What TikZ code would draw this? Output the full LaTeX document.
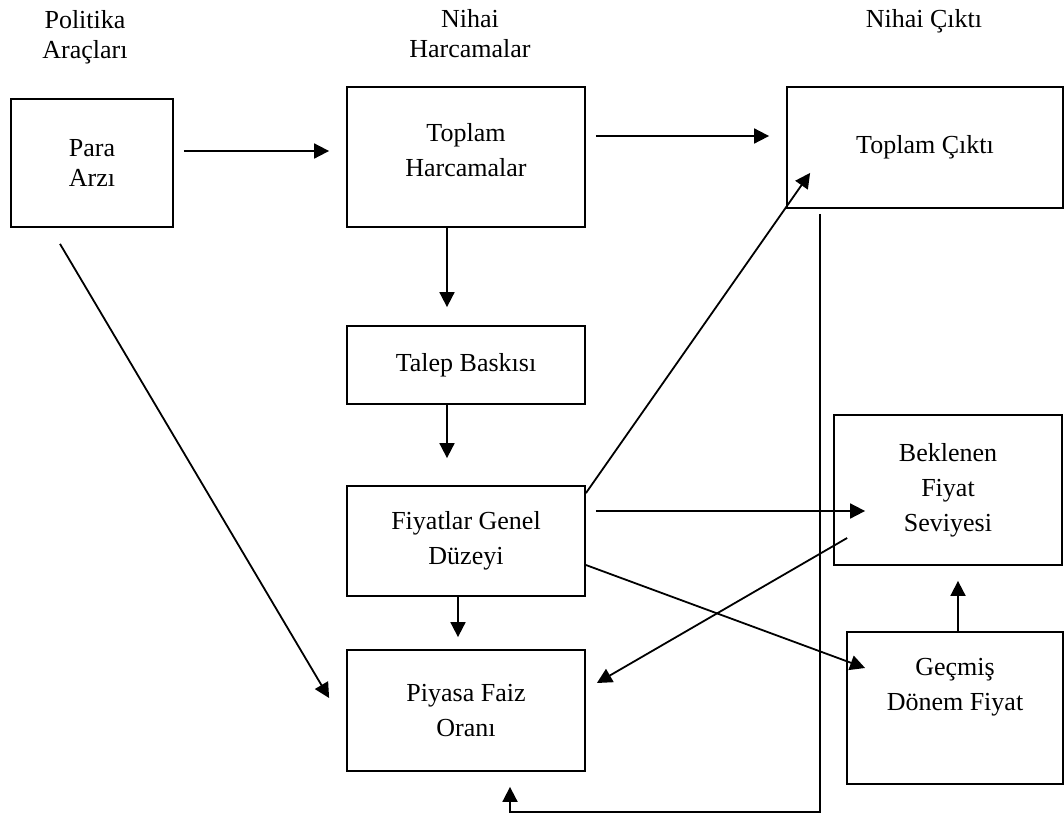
\documentclass[tikz,border=0pt]{standalone}
\usepackage{fontspec}
\setmainfont{Liberation Serif}
\usetikzlibrary{arrows.meta}

\begin{document}
\begin{tikzpicture}[x=1pt,y=-1pt,
	kutu/.style={draw,line width=1.8pt,align=center,inner sep=0pt,font=\fontsize{26}{35}\selectfont},
	baslik/.style={align=center,font=\fontsize{26}{30}\selectfont},
	ok/.style={-{Triangle[length=15pt,width=15pt]},line width=1.8pt}]
	\useasboundingbox (0,0) rectangle (1064,816);

	\node[baslik](politika) at (85,37) {Politika\\Araçları};
	\node[baslik](nihaiharc) at (470,34) {Nihai\\Harcamalar};
	\node[baslik,anchor=base](nihaicikti) at (924,28) {Nihai Çıktı};

	\node[kutu,minimum width=162pt,minimum height=128pt,font=\fontsize{26}{30}\selectfont](para) at (92,163) {Para\\Arzı};
	\node[kutu,minimum width=238pt,minimum height=140pt](th) at (466,157) {Toplam\\Harcamalar\\[-20pt]\mbox{}};
	\node[kutu,minimum width=276pt,minimum height=121pt](tc) at (925,147.5) {Toplam Çıktı};
	\node[kutu,minimum width=238pt,minimum height=78pt](talep) at (466,365) {Talep Baskısı};
	\node[kutu,minimum width=238pt,minimum height=110pt](fiyat) at (466,541) {Fiyatlar Genel\\Düzeyi};
	\node[kutu,minimum width=238pt,minimum height=121pt](piyasa) at (466,710.5) {Piyasa Faiz\\Oranı};
	\node[kutu,minimum width=228pt,minimum height=150pt](beklenen) at (948,490) {Beklenen\\Fiyat\\Seviyesi};
	\node[kutu,minimum width=216pt,minimum height=152pt](gecmis) at (955,708) {Geçmiş\\Dönem Fiyat\\[13pt]\mbox{}};

	\coordinate (donus) at (820,812);

	\draw[ok,shorten <=10pt,shorten >=17pt] ([yshift=12pt]para.east) -- ([yshift=6pt]th.west);
	\draw[ok,shorten <=10pt,shorten >=17pt] ([yshift=21pt]th.east) -- ([yshift=11.5pt]tc.west);
	\draw[ok,shorten >=18pt] ([xshift=-19pt]th.south) -- ([xshift=-19pt]talep.north);
	\draw[ok,shorten >=27pt] ([xshift=-19pt]talep.south) -- ([xshift=-19pt]fiyat.north);
	\draw[ok,shorten >=12pt] ([xshift=-8pt]fiyat.south) -- ([xshift=-8pt]piyasa.north);
	\draw[ok] ([xshift=-32pt,yshift=-16pt]para.south) -- ([xshift=-17pt,yshift=12.5pt]piyasa.west);
	\draw[ok] ([yshift=-8pt]fiyat.north east) -- ([xshift=24pt,yshift=36pt]tc.south west);
	\draw[ok,shorten <=10pt] ([yshift=30pt]fiyat.east) -- ([xshift=32pt,yshift=-21pt]beklenen.west);
	\draw[ok] ([yshift=-24pt]fiyat.east) -- ([xshift=19pt,yshift=40pt]gecmis.west);
	\draw[ok] ([xshift=14pt,yshift=-48pt]beklenen.west) -- ([xshift=11pt,yshift=27.5pt]piyasa.east);
	\draw[ok,shorten >=15pt] ([xshift=3pt]gecmis.north) -- ([xshift=10pt]beklenen.south);
	\draw[ok] ([xshift=-105pt,yshift=-5pt]tc.south) -- (donus) -| ([xshift=44pt,yshift=-15pt]piyasa.south);
\end{tikzpicture}
\end{document}
